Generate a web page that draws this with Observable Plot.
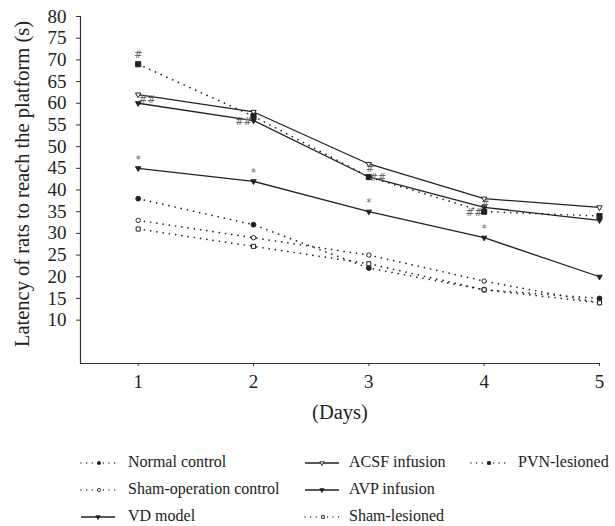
<!DOCTYPE html>
<html><head><meta charset="utf-8">
<script src="https://cdn.jsdelivr.net/npm/d3@7"></script>
<script src="https://cdn.jsdelivr.net/npm/@observablehq/plot@0.6"></script>
<style>
body{margin:0;background:#fff;font-family:"Liberation Serif",serif;}
#wrap{position:relative;width:615px;height:526px;overflow:hidden;}
.leg{position:absolute;font-size:16px;color:#222;white-space:nowrap;line-height:18px;}
.sw{position:absolute;}
</style></head><body><div id="wrap"></div>
<script>
// ---- data ----
const days = [1, 2, 3, 4, 5];
const seriesNames = ["Normal control", "Sham-operation control", "VD model", "ACSF infusion", "AVP infusion", "Sham-lesioned", "PVN-lesioned"];
const normalControl = [38, 32, 22, 17, 15];
const shamOperationControl = [33, 29, 25, 19, 14];
const vdModel = [60, 56, 43, 36, 33];
const acsfInfusion = [62, 58, 46, 38, 36];
const avpInfusion = [45, 42, 35, 29, 20];
const shamLesioned = [31, 27, 23, 17, 14];
const pvnLesioned = [69, 57, 43, 35, 34];
const yTicks = [10, 15, 20, 25, 30, 35, 40, 45, 50, 55, 60, 65, 70, 75, 80];
const xTicks = [1, 2, 3, 4, 5];
const yLabel = "Latency of rats to reach the platform (s)";
const xLabel = "(Days)";
// significance marks
const annotDays = [1, 1, 1, 2, 2, 3, 3, 3, 4, 4, 4];
const annotValues = [69, 61, 45, 56, 42, 46, 43, 35, 38, 35, 29];
const annotLabels = ["#", "##", "*", "##", "*", "#", "##", "*", "#", "##", "*"];

// ---- styles (kept separate from data) ----
const annotPlacement = ["above", "right", "above", "left", "above", "below", "right", "above", "below", "left", "above"];
const placementOffsets = {above: [0, -9], below: [1, 5], left: [-10, 1], right: [9, 1]};
const seriesStyle = [
  {dotted: true, symbol: "circle", fill: "#222", r: 2.4},
  {dotted: true, symbol: "circle", fill: "white", r: 2.2},
  {dotted: false, symbol: "triangle", fill: "#222", r: 2.0, rotate: 180},
  {dotted: false, symbol: "triangle", fill: "white", r: 2.0, rotate: 180},
  {dotted: false, symbol: "triangle", fill: "#222", r: 2.0, rotate: 180},
  {dotted: true, symbol: "square", fill: "white", r: 2.3},
  {dotted: true, symbol: "square", fill: "#222", r: 2.9}
];
const legendCols = [{sw: 80, tx: 128}, {sw: 304, tx: 349}, {sw: 470, tx: 518}];
const legendRows = [463, 490, 517];
const legendSlots = [[0, 0], [0, 1], [0, 2], [1, 0], [1, 1], [1, 2], [2, 0]];

const seriesValues = [normalControl, shamOperationControl, vdModel, acsfInfusion, avpInfusion, shamLesioned, pvnLesioned];
const rows = [];
seriesNames.forEach((name, i) => days.forEach((d, j) => rows.push({series: name, idx: i, day: d, value: seriesValues[i][j]})));
const annots = annotDays.map((d, i) => ({day: d, value: annotValues[i], label: annotLabels[i], place: annotPlacement[i]}));

const ink = "#222";
const marks = [];
seriesNames.forEach((name, i) => {
  const st = seriesStyle[i];
  const data = rows.filter(r => r.idx === i);
  marks.push(Plot.line(data, {
    x: "day", y: "value", stroke: ink,
    strokeWidth: st.dotted ? 1.7 : 1.3,
    strokeDasharray: st.dotted ? "0.01 6.3" : null,
    strokeLinecap: st.dotted ? "round" : "butt"
  }));
});
seriesNames.forEach((name, i) => {
  const st = seriesStyle[i];
  const data = rows.filter(r => r.idx === i);
  marks.push(Plot.dot(data, {
    x: "day", y: "value", symbol: () => st.symbol, r: st.r,
    fill: st.fill, stroke: ink, strokeWidth: 1, rotate: st.rotate || 0
  }));
});
Object.entries(placementOffsets).forEach(([p, [dx, dy]]) => {
  marks.push(Plot.text(annots.filter(a => a.place === p), {
    x: "day", y: "value", text: "label", dx, dy,
    fill: "#666", fontSize: 10, fontFamily: "DejaVu Sans", textAnchor: "middle"
  }));
});
marks.push(Plot.axisY(yTicks, {tickSize: 4, tickPadding: 10, fontSize: 19, label: null, stroke: "#333", tickFormat: "d"}));
marks.push(Plot.axisX(xTicks, {tickSize: 3, tickPadding: 8, fontSize: 19, label: null, stroke: "#333", tickFormat: "d"}));
marks.push(Plot.ruleX([0.5], {y1: 0, y2: 80, stroke: "#333", strokeWidth: 1.2}));
marks.push(Plot.ruleY([0], {x1: 0.5, x2: 5, stroke: "#333", strokeWidth: 1.2}));
marks.push(Plot.text([yLabel], {frameAnchor: "left", textAnchor: "middle", rotate: -90, dx: -58, dy: -6, fontSize: 20.5, fill: "#222"}));
marks.push(Plot.text([xLabel], {frameAnchor: "bottom", textAnchor: "middle", dy: 55, fontSize: 20.5, fill: "#222"}));

const chart = Plot.plot({
  width: 615, height: 435,
  marginLeft: 80, marginRight: 16, marginTop: 16, marginBottom: 72,
  style: {fontFamily: "'Liberation Serif', serif", fontSize: "17px", color: "#222", background: "white", overflow: "visible"},
  x: {domain: [0.5, 5], type: "linear"},
  y: {domain: [0, 80]},
  marks
});
const wrap = document.getElementById("wrap");
wrap.appendChild(chart);

// legend (HTML + tiny swatches)
seriesNames.forEach((name, i) => {
  const st = seriesStyle[i];
  const [c, r] = legendSlots[i];
  const col = legendCols[c], cy = legendRows[r];
  const sw = document.createElementNS("http://www.w3.org/2000/svg", "svg");
  sw.setAttribute("width", 36); sw.setAttribute("height", 10);
  sw.setAttribute("class", "sw");
  sw.style.left = col.sw + "px"; sw.style.top = (cy - 5) + "px";
  const line = document.createElementNS(sw.namespaceURI, "line");
  line.setAttribute("x1", 1); line.setAttribute("x2", 35); line.setAttribute("y1", 5); line.setAttribute("y2", 5);
  line.setAttribute("stroke", ink);
  line.setAttribute("stroke-width", st.dotted ? 1.4 : 1.3);
  if (st.dotted) { line.setAttribute("stroke-dasharray", "0.01 5.6"); line.setAttribute("stroke-linecap", "round"); }
  sw.appendChild(line);
  const m = document.createElementNS(sw.namespaceURI, "path");
  m.setAttribute("d", d3.symbol(st.symbol === "square" ? d3.symbolSquare : st.symbol === "circle" ? d3.symbolCircle : d3.symbolTriangle, Math.PI * 1.6 * 1.6)());
  m.setAttribute("transform", `translate(${st.dotted ? 19 : 18},5) rotate(${st.rotate || 0})`);
  m.setAttribute("fill", st.fill); m.setAttribute("stroke", ink); m.setAttribute("stroke-width", 0.9);
  sw.appendChild(m);
  wrap.appendChild(sw);
  const t = document.createElement("div");
  t.className = "leg"; t.textContent = name;
  t.style.left = col.tx + "px"; t.style.top = (cy - 10) + "px";
  wrap.appendChild(t);
});
</script></body></html>
